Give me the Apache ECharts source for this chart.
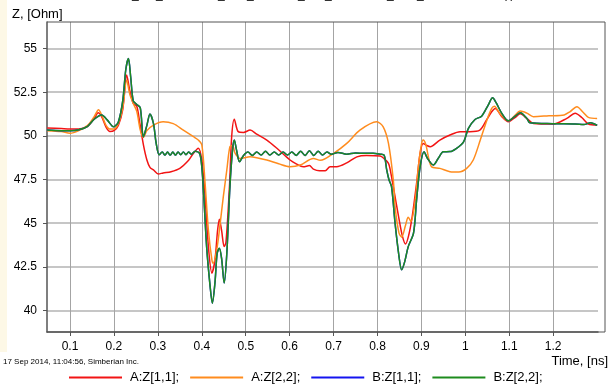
<!DOCTYPE html>
<html>
<head>
<meta charset="utf-8">
<script src="https://cdn.jsdelivr.net/npm/echarts@6/dist/echarts.min.js"></script>
<style>
  html, body { margin: 0; padding: 0; background: #fff; }
  #chart { width: 609px; height: 386px; }
</style>
</head>
<body>
<div id="chart"></div>
<script>
  // tick labels
  var timeTicks = [0.1, 0.2, 0.3, 0.4, 0.5, 0.6, 0.7, 0.8, 0.9, 1.0, 1.1, 1.2];
  var zTicks = [40, 42.5, 45, 47.5, 50, 52.5, 55];
  var seriesNames = ['A:Z[1,1];', 'A:Z[2,2];', 'B:Z[1,1];', 'B:Z[2,2];'];

  // [time ns, Z ohm]
  var aZ11 = [
    [0.048, 50.45], [0.08, 50.42], [0.1, 50.4], [0.12, 50.4], [0.14, 50.55], [0.155, 51.0],
    [0.164, 51.32], [0.172, 51.1], [0.182, 50.5], [0.191, 50.25], [0.2, 50.3], [0.21, 50.6],
    [0.22, 51.5], [0.229, 53.48], [0.236, 52.6], [0.244, 51.86], [0.252, 51.7], [0.259, 50.71],
    [0.267, 49.5], [0.275, 48.62], [0.282, 48.2], [0.29, 48.05], [0.301, 47.82], [0.312, 47.88],
    [0.33, 47.95], [0.35, 48.14], [0.37, 48.6], [0.381, 49.0], [0.392, 49.29], [0.4, 48.62],
    [0.407, 46.71], [0.415, 43.66], [0.423, 42.14], [0.43, 42.9], [0.436, 44.61], [0.44, 45.23],
    [0.445, 44.6], [0.451, 43.66], [0.455, 43.9], [0.463, 47.09], [0.468, 49.95], [0.474, 50.95],
    [0.483, 50.24], [0.495, 50.2], [0.51, 50.33], [0.525, 50.1], [0.548, 49.76], [0.571, 49.29],
    [0.601, 48.62], [0.615, 48.4], [0.631, 48.23], [0.645, 48.3], [0.654, 48.1], [0.668, 48.0],
    [0.681, 48.0], [0.692, 48.23], [0.707, 48.23], [0.73, 48.45], [0.753, 48.8], [0.775, 48.88],
    [0.806, 48.85], [0.815, 48.7], [0.825, 48.43], [0.829, 48.05], [0.836, 47.09], [0.848, 45.38],
    [0.857, 44.23], [0.864, 43.81], [0.871, 44.3], [0.879, 45.38], [0.889, 47.28], [0.897, 49.0],
    [0.904, 49.57], [0.912, 49.45], [0.92, 49.38], [0.942, 49.76], [0.965, 50.05], [0.988, 50.24],
    [1.01, 50.24], [1.033, 50.33], [1.048, 50.9], [1.06, 51.38], [1.068, 51.57], [1.083, 51.1],
    [1.098, 50.81], [1.113, 51.05], [1.125, 51.26], [1.14, 51.0], [1.155, 50.71], [1.2, 50.68],
    [1.231, 51.0], [1.25, 51.29], [1.265, 51.05], [1.28, 50.68], [1.3, 50.62]
  ];
  var aZ22 = [
    [0.048, 50.3], [0.08, 50.25], [0.1, 50.15], [0.12, 50.3], [0.14, 50.6], [0.155, 51.1],
    [0.165, 51.5], [0.172, 51.2], [0.182, 50.6], [0.19, 50.4], [0.2, 50.4], [0.21, 50.7],
    [0.22, 51.6], [0.229, 53.2], [0.236, 52.4], [0.244, 51.86], [0.252, 51.4], [0.26, 50.33],
    [0.267, 49.9], [0.275, 50.3], [0.29, 50.62], [0.312, 50.81], [0.335, 50.7], [0.358, 50.33],
    [0.381, 49.95], [0.392, 49.76], [0.4, 49.5], [0.407, 47.47], [0.415, 44.61], [0.423, 42.9],
    [0.426, 42.71], [0.434, 43.47], [0.441, 44.8], [0.449, 46.52], [0.457, 48.05], [0.464, 49.38],
    [0.47, 49.45], [0.476, 49.0], [0.487, 48.71], [0.51, 48.8], [0.525, 48.75], [0.548, 48.62],
    [0.575, 48.4], [0.601, 48.23], [0.624, 48.33], [0.654, 48.71], [0.67, 48.6], [0.7, 49.0],
    [0.73, 49.57], [0.76, 50.33], [0.798, 50.81], [0.813, 50.52], [0.825, 49.57], [0.836, 47.47],
    [0.84, 45.95], [0.849, 44.43], [0.855, 44.2], [0.864, 44.9], [0.87, 45.34], [0.876, 45.1],
    [0.886, 46.33], [0.893, 48.23], [0.9, 49.5], [0.904, 49.76], [0.91, 49.5], [0.923, 48.23],
    [0.942, 48.14], [0.965, 47.95], [0.985, 47.93], [1.003, 48.14], [1.018, 48.62], [1.034, 49.76],
    [1.049, 50.9], [1.06, 51.57], [1.066, 51.7], [1.078, 51.3], [1.098, 50.86], [1.112, 51.15],
    [1.125, 51.42], [1.14, 51.3], [1.155, 51.1], [1.19, 51.15], [1.225, 51.2], [1.238, 51.38],
    [1.254, 51.67], [1.268, 51.35], [1.28, 51.06], [1.3, 51.0]
  ];
  var bZ22 = [
    [0.048, 50.33], [0.08, 50.3], [0.1, 50.3], [0.12, 50.35], [0.14, 50.55], [0.155, 50.95],
    [0.172, 51.19], [0.185, 50.9], [0.199, 50.52], [0.21, 50.8], [0.22, 52.0], [0.227, 53.8],
    [0.233, 54.43], [0.238, 53.4], [0.244, 52.0], [0.252, 51.8], [0.26, 51.6], [0.267, 49.95],
    [0.275, 50.6], [0.282, 51.25], [0.29, 50.7], [0.296, 49.6], [0.303, 48.92], [0.31, 49.08],
    [0.316, 48.9], [0.322, 49.08], [0.328, 48.9], [0.334, 49.08], [0.34, 48.9], [0.346, 49.08],
    [0.352, 48.92], [0.358, 49.08], [0.364, 48.92], [0.37, 49.08], [0.376, 48.95], [0.385, 49.12],
    [0.395, 49.0], [0.4, 48.23], [0.405, 46.33], [0.411, 43.66], [0.419, 41.37], [0.424, 40.42],
    [0.43, 41.6], [0.435, 43.28], [0.44, 43.57], [0.445, 43.0], [0.451, 41.57], [0.457, 43.28],
    [0.464, 47.09], [0.47, 49.2], [0.474, 49.76], [0.479, 49.2], [0.486, 48.52], [0.495, 48.88],
    [0.505, 49.08], [0.515, 48.88], [0.525, 49.08], [0.535, 48.9], [0.545, 49.12], [0.555, 48.9],
    [0.565, 49.08], [0.575, 48.9], [0.585, 49.08], [0.595, 48.9], [0.605, 49.08], [0.615, 48.88],
    [0.625, 49.12], [0.635, 48.88], [0.645, 49.15], [0.655, 48.88], [0.665, 49.12], [0.675, 48.9],
    [0.685, 49.08], [0.695, 48.95], [0.71, 49.05], [0.73, 48.95], [0.75, 49.02], [0.77, 49.0],
    [0.79, 49.0], [0.806, 48.95], [0.815, 48.9], [0.821, 48.05], [0.826, 47.5], [0.832, 47.09],
    [0.84, 45.0], [0.848, 43.28], [0.855, 42.33], [0.862, 42.8], [0.87, 43.66], [0.882, 44.43],
    [0.889, 46.33], [0.897, 48.23], [0.906, 49.09], [0.914, 48.7], [0.927, 48.33], [0.938, 48.7],
    [0.95, 49.09], [0.965, 49.1], [0.98, 49.29], [0.996, 49.66], [1.007, 50.43], [1.022, 50.94],
    [1.037, 51.13], [1.052, 51.76], [1.062, 52.18], [1.07, 51.9], [1.083, 51.29], [1.098, 50.86],
    [1.112, 51.1], [1.125, 51.32], [1.14, 51.0], [1.147, 50.75], [1.2, 50.7], [1.25, 50.68],
    [1.27, 50.65], [1.285, 50.75], [1.3, 50.6]
  ];
  // B:Z[1,1] is not visible anywhere: it lies under B:Z[2,2]
  var bZ11 = bZ22;

  var colors = ['#f21414', '#ff8c1e', '#1414f0', '#1e8c1e'];

  var myChart = echarts.init(document.getElementById('chart'));

  function lineSeries(name, data, color) {
    return {
      name: name,
      type: 'line',
      data: data,
      symbol: 'none',
      smooth: 0.3,
      lineStyle: { color: color, width: 1.5 },
      itemStyle: { color: color }
    };
  }

  var underscoreX = [132, 156, 218, 247, 298, 325, 387, 417];
  var titleBits = underscoreX.map(function (x) {
    return { type: 'text', x: x, y: 1, style: { text: '_', font: '12px "Liberation Sans"', fill: '#000', textVerticalAlign: 'bottom' } };
  });
  titleBits.push({ type: 'text', x: 503, y: 1, style: { text: '(t),', font: '12px "Liberation Sans"', fill: '#000', textVerticalAlign: 'bottom' } });

  myChart.setOption({
    animation: false,
    backgroundColor: '#fff',
    color: colors,
    grid: { left: 47, top: 22, right: 11, bottom: 54 },
    legend: {
      data: seriesNames,
      left: 69,
      top: 371,
      padding: 0,
      icon: 'rect',
      itemWidth: 53,
      itemHeight: 2,
      itemGap: 11,
      selectedMode: false,
      textStyle: { fontFamily: 'Liberation Sans', fontSize: 13, color: '#000', width: 53, padding: [0, 0, 0, 3] }
    },
    xAxis: {
      type: 'value',
      min: 0.0476,
      max: 1.302,
      axisLine: { show: true, lineStyle: { color: '#555', width: 1.5 } },
      axisTick: { show: true, customValues: timeTicks, length: 4, lineStyle: { color: '#555' } },
      axisLabel: {
        customValues: timeTicks,
        margin: 9,
        fontFamily: 'Liberation Sans',
        fontSize: 12,
        color: '#000',
        formatter: function (v) { return String(Math.round(v * 10) / 10); }
      },
      splitLine: { show: true, lineStyle: { color: '#a4a4a4', width: 1 } }
    },
    yAxis: {
      type: 'value',
      min: 38.77,
      max: 56.52,
      axisLine: { show: true, lineStyle: { color: '#555', width: 1.5 } },
      axisTick: { show: true, customValues: zTicks, length: 4, lineStyle: { color: '#555' } },
      axisLabel: {
        customValues: zTicks,
        margin: 10,
        fontFamily: 'Liberation Sans',
        fontSize: 12,
        color: '#000'
      },
      splitLine: { show: true, lineStyle: { color: '#c6c6c6', width: 2 } }
    },
    graphic: [
      { type: 'rect', shape: { x: 0, y: 0, width: 7, height: 352 }, style: { fill: '#fdf8e6' }, z: -1 },
      {
        type: 'polyline', z: 50,
        shape: { points: [[47, 332], [605, 332], [605, 22], [47, 22]] },
        style: { stroke: '#555', lineWidth: 1, fill: null }
      },
      { type: 'text', x: 12, y: 14, style: { text: 'Z, [Ohm]', font: '13px "Liberation Sans"', fill: '#000', textVerticalAlign: 'middle' } },
      { type: 'text', x: 3, y: 362, style: { text: '17 Sep 2014, 11:04:56, Simberian Inc.', font: '8px "Liberation Sans"', fill: '#000', textVerticalAlign: 'middle' } },
      { type: 'text', x: 608, y: 361, style: { text: 'Time, [ns]', font: '13px "Liberation Sans"', fill: '#000', textAlign: 'right', textVerticalAlign: 'middle' } }
    ].concat(titleBits),
    series: [
      lineSeries(seriesNames[0], aZ11, colors[0]),
      lineSeries(seriesNames[1], aZ22, colors[1]),
      lineSeries(seriesNames[2], bZ11, colors[2]),
      lineSeries(seriesNames[3], bZ22, colors[3])
    ]
  });
</script>
</body>
</html>
